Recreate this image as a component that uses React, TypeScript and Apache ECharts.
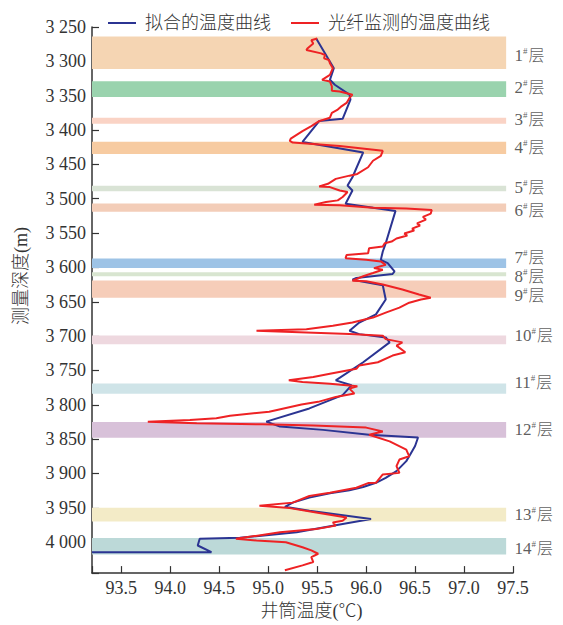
import React, { useEffect, useRef } from "react";
import * as echarts from "echarts";

// Fitted temperature curve (blue)
const fitDepth = [3266.7, 3310, 3326.9, 3334.1, 3348.5, 3355.8, 3383.6, 3387, 3417.3, 3432.6, 3468.7, 3480.8, 3488, 3507.2, 3517.7, 3564.9, 3576.8, 3589, 3593.7, 3605.7, 3609.6, 3615.4, 3617.8, 3625.9, 3646.6, 3668.3, 3680.3, 3692.2, 3697.1, 3701.9, 3709.1, 3738, 3764.4, 3771.6, 3786, 3805.3, 3824.5, 3831.7, 3836.5, 3843.7, 3847.6, 3860, 3875, 3882, 3896.6, 3906.3, 3913.5, 3919.7, 3924.5, 3928.8, 3935.1, 3942.4, 3948.5, 3954.3, 3966.3, 3973.5, 3985.6, 3993.7, 3995.1, 4004.8, 4014.5, 4014.5];
const fitTemp = [95.49, 95.67, 95.63, 95.68, 95.83, 95.84, 95.76, 95.52, 95.35, 95.97, 95.86, 95.81, 95.86, 95.79, 96.3, 96.2, 96.17, 96.15, 96.22, 96.29, 96.27, 95.9, 95.86, 96.17, 96.2, 96.1, 95.93, 95.83, 95.93, 96.2, 96.24, 95.97, 95.69, 95.85, 95.76, 95.42, 94.98, 95.12, 95.56, 96.03, 96.53, 96.5, 96.44, 96.41, 96.31, 96.2, 96.1, 95.97, 95.83, 95.63, 95.42, 95.25, 95.17, 95.42, 96.05, 95.76, 95.29, 94.71, 94.3, 94.28, 94.42, 93.2];

// Fibre-optic measured temperature curve (red)
const obsDepth = [3266.7, 3269.2, 3273.9, 3281.2, 3283.6, 3288.4, 3290.8, 3295.6, 3298, 3302.8, 3310, 3319.7, 3326.9, 3329.3, 3336.5, 3342.7, 3343.8, 3348.5, 3353.3, 3360.5, 3366.3, 3370.2, 3374.9, 3382.1, 3387, 3394.2, 3401.5, 3412.4, 3415.9, 3418.2, 3423.1, 3427.8, 3430.3, 3437.5, 3444.7, 3454.2, 3463.9, 3466.4, 3471.1, 3478.3, 3482.2, 3483.1, 3488, 3490.3, 3497.5, 3502.4, 3504.7, 3508.6, 3509.6, 3513, 3514.4, 3516.3, 3521.6, 3526.4, 3530.3, 3536, 3538.9, 3543.5, 3546.3, 3550.7, 3553.6, 3557.9, 3562.4, 3564.9, 3569.6, 3572.1, 3579.3, 3581.8, 3586.5, 3589, 3591.3, 3596.2, 3601, 3603.4, 3608.2, 3612.9, 3619.3, 3620.1, 3625, 3632.2, 3639.5, 3644.2, 3646.7, 3651.4, 3658.6, 3665.8, 3673, 3680.3, 3685, 3689.9, 3692.2, 3694.7, 3697.1, 3699.4, 3704.4, 3709.1, 3713.9, 3723.5, 3728.3, 3738, 3742.7, 3747.6, 3754.8, 3759.6, 3764.4, 3766.8, 3769.3, 3773, 3776.5, 3783.7, 3788.5, 3795.7, 3799.6, 3810.1, 3815.9, 3819.7, 3822.1, 3824.5, 3826.9, 3828.4, 3830.3, 3833.2, 3838.9, 3843.6, 3853.3, 3865.3, 3875, 3879.7, 3889.4, 3899.1, 3901.4, 3913.5, 3914, 3920.7, 3927.9, 3932.7, 3942.4, 3947.1, 3950.4, 3956.8, 3964, 3968.7, 3971.2, 3975.9, 3980.7, 3985.6, 3995.1, 3997.6, 4000, 4007.3, 4012, 4016.8, 4021.7, 4028.9, 4033.7, 4040.9];
const obsTemp = [95.5, 95.44, 95.46, 95.4, 95.39, 95.54, 95.58, 95.57, 95.62, 95.63, 95.66, 95.63, 95.55, 95.63, 95.65, 95.65, 95.73, 95.86, 95.83, 95.8, 95.74, 95.71, 95.65, 95.63, 95.52, 95.44, 95.35, 95.23, 95.22, 95.25, 95.73, 96.03, 96.17, 96.15, 96.07, 96.02, 95.91, 95.83, 95.69, 95.61, 95.52, 95.63, 95.73, 95.81, 95.76, 95.71, 95.59, 95.47, 95.73, 96.07, 96.41, 96.67, 96.66, 96.58, 96.61, 96.52, 96.55, 96.47, 96.49, 96.39, 96.42, 96.31, 96.26, 96.19, 96.17, 96.03, 96.02, 95.8, 95.79, 96.0, 96.15, 96.2, 96.08, 96.17, 96.07, 95.97, 95.86, 96.0, 96.17, 96.37, 96.54, 96.66, 96.56, 96.44, 96.34, 96.2, 96.07, 95.86, 95.66, 95.39, 94.88, 95.39, 95.83, 96.17, 96.2, 96.37, 96.31, 96.4, 96.27, 96.12, 95.93, 95.9, 95.63, 95.46, 95.21, 95.35, 95.63, 95.91, 95.83, 95.88, 95.69, 95.51, 95.34, 95.01, 94.61, 94.47, 94.2, 93.77, 94.27, 94.94, 95.46, 96.0, 96.17, 96.03, 96.24, 96.41, 96.44, 96.34, 96.31, 96.34, 96.17, 96.1, 96.02, 95.9, 95.63, 95.42, 95.25, 94.91, 95.22, 95.49, 95.8, 95.76, 95.66, 95.69, 95.49, 95.12, 94.67, 94.88, 95.18, 95.35, 95.44, 95.51, 95.44, 95.46, 95.35, 95.17];

// Layers (bands)
const layerNames = ["1", "2", "3", "4", "5", "6", "7", "8", "9", "10", "11", "12", "13", "14"];
const layerTop = [3264, 3329, 3382, 3417, 3481, 3507, 3587, 3607, 3619, 3699, 3769, 3825, 3950, 3994];
const layerBottom = [3311, 3352, 3391, 3435, 3489, 3519, 3601, 3613, 3644, 3712, 3784, 3848, 3970, 4018];
const layerColors = ["#F5D5B3", "#9AD3AE", "#FAD3C5", "#F7CBA1", "#D9E3D5", "#F3CDB8", "#9DC3E6", "#D8E5D0", "#F6CDB9", "#EED8DF", "#CFE4E8", "#D8C1D9", "#F3EBC7", "#BCD9D8"];
const layerLabelDepth = [3291, 3338, 3385, 3425, 3484, 3517, 3586, 3613, 3641, 3699, 3768, 3836, 3959, 4009];

const SERIF = "'Liberation Serif', 'Noto Sans CJK SC', serif";

export default function App() {
  const ref = useRef<HTMLDivElement>(null);
  useEffect(() => {
    if (!ref.current) return;
    const chart = echarts.init(ref.current, null, { renderer: "svg" });
    const fitData = fitDepth.map((d, i) => [fitTemp[i], d]);
    const obsData = obsDepth.map((d, i) => [obsTemp[i], d]);
    const labelData = layerNames.map((n, i) => ({ name: n, value: [97.5, layerLabelDepth[i]] }));
    const bands = layerNames.map((n, i) => [
      { yAxis: layerTop[i], xAxis: 93.2, itemStyle: { color: layerColors[i], opacity: 1 } },
      { yAxis: layerBottom[i], xAxis: 97.43 },
    ]);
    chart.setOption({
      animation: false,
      textStyle: { fontFamily: SERIF },
      grid: { left: 92, right: 50, top: 27, bottom: 47 },
      legend: {
        data: ["拟合的温度曲线", "光纤监测的温度曲线"],
        left: 103,
        top: 9,
        icon: "rect",
        itemWidth: 28,
        itemHeight: 2,
        itemGap: 20,
        textStyle: { fontSize: 18, color: "#333", fontFamily: SERIF, fontWeight: 300, padding: [0, 0, 0, 4] },
      },
      xAxis: {
        type: "value",
        min: 93.2,
        max: 97.5,
        splitNumber: 9,
        name: "井筒温度(℃)",
        nameLocation: "middle",
        nameGap: 25,
        nameTextStyle: { fontSize: 18, color: "#333", fontFamily: SERIF, fontWeight: 300, padding: [0, 0, 0, 18] },
        axisLine: { lineStyle: { color: "#333", width: 1.5 } },
        axisTick: { inside: true, length: 7, lineStyle: { color: "#333", width: 1.2 } },
        axisLabel: {
          fontSize: 18,
          color: "#333",
          margin: 6,
          fontFamily: SERIF,
          formatter: (v: number) => (Math.abs(v * 2 - Math.round(v * 2)) < 1e-6 ? v.toFixed(1) : ""),
        },
        splitLine: { show: false },
      },
      yAxis: {
        type: "value",
        inverse: true,
        min: 3250,
        max: 4045,
        interval: 50,
        name: "测量深度(m)",
        nameLocation: "middle",
        nameGap: 62,
        nameRotate: 90,
        nameTextStyle: { fontSize: 18, color: "#333", fontFamily: SERIF, fontWeight: 300, padding: [0, 0, 0, 48] },
        axisLine: { lineStyle: { color: "#333", width: 1.5 } },
        axisTick: { inside: true, length: 7, lineStyle: { color: "#333", width: 1.2 } },
        axisLabel: {
          fontSize: 18,
          color: "#333",
          margin: 6,
          fontFamily: SERIF,
          formatter: (v: number) => {
            if (v % 50 !== 0) return "";
            const s = String(v);
            return s.slice(0, 1) + " " + s.slice(1);
          },
        },
        splitLine: { show: false },
      },
      series: [
        {
          name: "layers",
          type: "scatter",
          z: 1,
          symbolSize: 1,
          itemStyle: { color: "rgba(0,0,0,0)" },
          data: labelData,
          silent: true,
          clip: false,
          label: {
            show: true,
            position: "right",
            distance: 1,
            color: "#333",
            formatter: (p: any) => "{n|" + p.name + "}{s|#}{c|层}",
            rich: {
              n: { fontSize: 17, fontFamily: SERIF, color: "#333", lineHeight: 14 },
              s: { fontSize: 9, fontFamily: SERIF, color: "#333", lineHeight: 14, padding: [0, 1, 9, 0] },
              c: { fontSize: 16, fontFamily: SERIF, fontWeight: 300, color: "#333", lineHeight: 14 },
            },
          },
          labelLayout: { hideOverlap: false },
          markArea: { silent: true, data: bands },
        },
        {
          name: "拟合的温度曲线",
          type: "line",
          z: 5,
          symbol: "none",
          data: fitData,
          lineStyle: { color: "#2B3492", width: 2 },
          itemStyle: { color: "#2B3492" },
        },
        {
          name: "光纤监测的温度曲线",
          type: "line",
          z: 6,
          symbol: "none",
          data: obsData,
          lineStyle: { color: "#EE2224", width: 2 },
          itemStyle: { color: "#EE2224" },
        },
      ],
    });
    return () => chart.dispose();
  }, []);
  return <div ref={ref} style={{ width: 563, height: 625, marginLeft: -8, marginTop: -8 }} />;
}
